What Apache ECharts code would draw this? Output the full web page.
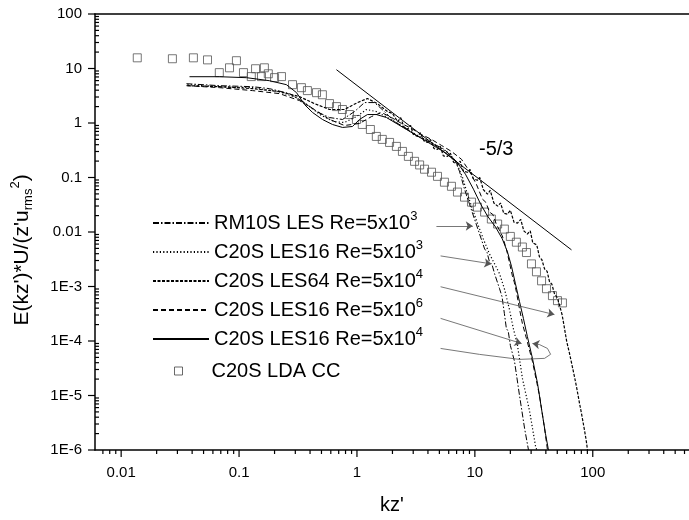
<!DOCTYPE html>
<html><head><meta charset="utf-8">
<script src="https://cdn.jsdelivr.net/npm/echarts@6/dist/echarts.min.js"></script>
<style>html,body{margin:0;padding:0;background:#fff}#c{width:689px;height:520px}</style>
</head><body><div id="c"></div>
<script>
const FONT = '"Liberation Sans", Arial, Helvetica, sans-serif';

// tick labels
const xTickValues = [0.01, 0.1, 1, 10, 100];
const xTickLabels = ['0.01', '0.1', '1', '10', '100'];
const yTickValues = [1e-6, 1e-5, 1e-4, 1e-3, 0.01, 0.1, 1, 10, 100];
const yTickLabels = ['1E-6', '1E-5', '1E-4', '1E-3', '0.01', '0.1', '1', '10', '100'];

// series names (^n = superscript)
const seriesNames = ['RM10S LES Re=5x10^3', 'C20S LES16 Re=5x10^3', 'C20S LES64 Re=5x10^4',
  'C20S LES16 Re=5x10^6', 'C20S LES16 Re=5x10^4', 'C20S LDA CC'];

// [kz', E] pairs
const rm10sLes5e3 = [[0.0358,5.26],[0.0682,4.84],[0.130,4.64],[0.181,4.27],[0.268,3.46],[0.359,2.37],[0.454,1.62],[0.585,1.26],[0.754,1.16],[0.953,1.62],[1.158,2.37],[1.409,2.37],[1.711,1.62],[2.081,1.06],[2.529,0.828],[3.076,0.617],[3.74,0.500],[4.55,0.405],[5.52,0.328],[6.71,0.216],[7.41,0.130],[8.17,0.0610],[9.01,0.0324],[9.93,0.0173],[10.96,0.00919],[12.1,0.00489],[12.7,0.0042],[13.3,0.00283],[14.0,0.0025],[14.7,0.00171],[16.2,9.1e-4],[17.0,6.5e-4],[17.8,3.2e-4],[18.5,1.7e-4],[19.2,1.5e-4],[20.0,8.3e-5],[21.7,4.2e-5],[23.9,1.01e-5],[26.4,2.5e-6],[28.5,1e-6]];
const c20sLes16Re5e3 = [[0.0365,5.05],[0.0682,4.64],[0.130,4.45],[0.220,3.76],[0.307,2.92],[0.396,2.00],[0.500,1.37],[0.644,1.06],[0.784,1.02],[0.99,1.31],[1.205,1.77],[1.46,1.62],[1.815,1.26],[2.21,0.98],[2.68,0.761],[3.26,0.591],[3.96,0.479],[4.82,0.372],[5.86,0.289],[6.98,0.190],[7.85,0.101],[8.65,0.0494],[9.55,0.0263],[10.5,0.0146],[11.8,0.00745],[13.3,0.00396],[14.7,0.00260],[16.2,0.00171],[17.8,9.1e-4],[19.6,3.9e-4],[21.2,1.7e-4],[23.0,8.3e-5],[25.3,2.07e-5],[29.1,5.2e-6],[32.7,1.18e-6],[33.5,1e-6]];
const c20sLes64Re5e4 = [[0.0365,4.84],[0.0682,4.64],[0.130,4.27],[0.220,3.76],[0.325,3.05],[0.436,2.27],[0.585,1.77],[0.784,1.77],[1.01,2.37],[1.227,2.81],[1.49,2.27],[1.815,1.62],[2.0,1.5],[2.21,1.06],[2.35,1.25],[2.5,0.85],[2.68,0.761],[2.85,0.9],[3.0,0.62],[3.26,0.567],[3.45,0.66],[3.7,0.47],[3.96,0.440],[4.2,0.5],[4.5,0.34],[4.82,0.328],[5.1,0.37],[5.4,0.25],[5.86,0.244],[6.2,0.28],[6.6,0.19],[7.12,0.175],[7.5,0.2],[8.0,0.13],[8.65,0.125],[9.1,0.14],[9.7,0.095],[10.5,0.0891],[11.0,0.1],[11.8,0.06],[12.8,0.0494],[13.5,0.058],[14.5,0.034],[15.6,0.0298],[16.5,0.034],[17.6,0.022],[18.9,0.0213],[20.0,0.025],[21.5,0.015],[23.0,0.0146],[24.5,0.017],[26.0,0.0105],[27.9,0.00919],[29.5,0.0105],[31.0,0.0063],[32.0,0.00604],[33.5,0.0058],[35.3,0.00349],[37,0.0031],[39.0,0.00211],[41,0.0019],[43.0,0.00122],[45,0.0011],[47.3,7.4e-4],[50,6.2e-4],[52.2,4.6e-4],[55,3.0e-4],[57.6,1.7e-4],[60,1.0e-4],[63.5,5.9e-5],[66,4.0e-5],[70.0,2.2e-5],[73,1.4e-5],[77.2,7.2e-6],[81,4.2e-6],[85.1,2.3e-6],[88,1.5e-6],[90.2,1e-6]];
const c20sLes16Re5e6 = [[0.0358,4.84],[0.0682,4.45],[0.130,3.93],[0.220,3.46],[0.325,2.58],[0.436,1.77],[0.585,1.16],[0.784,0.90],[1.050,0.98],[1.327,1.31],[1.613,1.56],[1.962,1.26],[2.387,0.98],[2.90,0.794],[3.52,0.617],[4.28,0.500],[5.21,0.388],[6.33,0.301],[7.70,0.216],[9.01,0.130],[10.3,0.0753],[11.6,0.0401],[12.4,0.035],[13.3,0.0232],[14.2,0.021],[15.2,0.0140],[17.1,0.00845],[18.5,0.00489],[19.6,0.00283],[20.8,0.00157],[21.6,0.0012],[22.5,8.0e-4],[23.9,3.9e-4],[25.3,2.1e-4],[27.4,1.11e-4],[30.8,4.2e-5],[35.3,1.01e-5],[39.0,2.5e-6],[41.3,1e-6]];
const c20sLes16Re5e4 = [[0.0380,7.07],[0.0682,7.07],[0.116,6.78],[0.181,5.97],[0.252,5.05],[0.307,3.61],[0.359,2.18],[0.420,1.56],[0.510,1.16],[0.620,0.939],[0.754,0.828],[0.916,0.863],[1.050,1.16],[1.227,1.43],[1.46,1.43],[1.78,1.26],[2.16,0.98],[2.63,0.761],[3.20,0.591],[3.89,0.459],[4.72,0.357],[5.74,0.277],[6.98,0.198],[8.32,0.115],[9.73,0.0610],[11.2,0.0324],[12.8,0.0196],[15.0,0.0123],[17.1,0.00745],[18.9,0.00431],[20.5,0.0023],[22.1,0.00112],[23.9,5.3e-4],[25.8,2.6e-4],[27.9,1.2e-4],[30.8,4.8e-5],[34.0,1.67e-5],[36.7,5.8e-6],[39.7,2.0e-6],[42.1,1e-6]];
const c20sLdaCC = [[0.0137,15.7],[0.0272,15.1],[0.041,15.7],[0.054,14.4],[0.068,8.4],[0.083,10.3],[0.095,13.9],[0.109,8.4],[0.127,7.1],[0.138,9.9],[0.155,7.1],[0.164,10.3],[0.177,8.0],[0.200,6.8],[0.229,7.1],[0.284,5.05],[0.338,4.45],[0.38,3.93],[0.454,3.6],[0.509,3.3],[0.585,2.27],[0.67,2.0],[0.753,1.77],[0.863,1.43],[0.99,1.16],[1.11,0.94],[1.30,0.76],[1.46,0.567],[1.64,0.50],[1.89,0.44],[2.16,0.372],[2.43,0.301],[2.73,0.244],[3.08,0.198],[3.4,0.17],[3.74,0.142],[4.29,0.125],[4.82,0.105],[5.52,0.082],[6.33,0.069],[7.12,0.054],[8.17,0.0436],[9.36,0.0353],[10.5,0.0286],[12.1,0.0232],[13.8,0.0173],[15.6,0.014],[17.8,0.0113],[20.0,0.0083],[22.5,0.0065],[25.3,0.0053],[27.4,0.0042],[30.2,0.0026],[33.3,0.00186],[36.8,0.00127],[40.5,9.1e-4],[45.5,6.8e-4],[50.2,5.5e-4],[55.3,5.0e-4]];

// -5/3 reference line and annotation arrows (data coordinates)
const slopeLine = [[0.67, 9.5], [66, 0.0047]];
const slopeLabel = '-5/3';
const arrowLines = [
  [[4.72, 0.0129], [9.6, 0.0129]],
  [[5.12, 0.00364], [13.8, 0.0026]],
  [[5.12, 9.9e-4], [47.3, 3.05e-4]],
  [[5.12, 2.6e-4], [24.9, 9.0e-5]],
  [[35.3, 8.6e-5], [30.8, 9.0e-5]]
];
const loopLine = [[5.12, 7.3e-5], [10.96, 5.68e-5], [23.9, 4.6e-5], [39.0, 4.8e-5], [43.9, 5.7e-5], [41.3, 7.3e-5], [35.3, 8.6e-5]];

const X_MIN = 0.006, X_MAX = 655, Y_MIN = 1e-6, Y_MAX = 100;

function labelFmt(values, labels) {
  return function (v) {
    for (let i = 0; i < values.length; i++) {
      if (Math.abs(Math.log10(v) - Math.log10(values[i])) < 1e-6) return labels[i];
    }
    return '';
  };
}

// tick marks (major/minor) positioned by the axes
const xTicks = [], yTicks = [];
for (let e = -3; e <= 3; e++) {
  for (let m = 1; m <= 9; m++) {
    const v = m * Math.pow(10, e);
    if (v > X_MIN * 1.0001 && v < X_MAX) xTicks.push([v, Y_MIN, m === 1 ? 1 : 0]);
  }
}
for (let e = -6; e <= 2; e++) {
  for (let m = 1; m <= 9; m++) {
    const v = m * Math.pow(10, e);
    if (v >= Y_MIN * 0.9999 && v <= Y_MAX * 1.0001) yTicks.push([X_MIN, v, m === 1 ? 1 : 0]);
  }
}

function lineSeries(name, data, dash, width) {
  return {
    type: 'line', name: name, data: data, showSymbol: false, symbol: 'circle', symbolSize: 2,
    lineStyle: { color: '#000', width: width, type: dash },
    itemStyle: { color: '#000' }, z: 3, silent: true
  };
}

function legendFmt(name) {
  const m = name.match(/^(.*)\^(\d)$/);
  if (m) return '{n|' + m[1] + '}{s|' + m[2] + '}';
  return '{n|' + name + '}';
}

const legendText = {
  color: '#000', fontFamily: FONT, fontSize: 20,
  rich: {
    n: { fontSize: 20, color: '#000', fontFamily: FONT },
    s: { fontSize: 13, color: '#000', fontFamily: FONT, padding: [0, 0, 13, 0] }
  }
};

const chart = echarts.init(document.getElementById('c'), null, { renderer: 'canvas' });
chart.setOption({
  animation: false,
  backgroundColor: '#fff',
  grid: { left: 95, right: 0, top: 14, bottom: 68, show: false },
  xAxis: [{
    type: 'log', logBase: 10, min: X_MIN, max: X_MAX,
    axisLine: { show: true, lineStyle: { color: '#000', width: 1.5 } },
    axisTick: { show: false }, splitLine: { show: false }, minorTick: { show: false },
    axisLabel: { formatter: labelFmt(xTickValues, xTickLabels), fontSize: 15, color: '#000', fontFamily: FONT, margin: 15, showMaxLabel: false },
    name: "kz'", nameLocation: 'middle', nameGap: 45,
    nameTextStyle: { fontSize: 20, color: '#000', fontFamily: FONT }
  }, {
    type: 'log', logBase: 10, min: X_MIN, max: X_MAX, position: 'top',
    axisLine: { show: true, lineStyle: { color: '#000', width: 1.5 } },
    axisTick: { show: false }, axisLabel: { show: false }, splitLine: { show: false }
  }],
  yAxis: {
    type: 'log', logBase: 10, min: Y_MIN, max: Y_MAX,
    axisLine: { show: true, lineStyle: { color: '#000', width: 1.5 } },
    axisTick: { show: false }, splitLine: { show: false }, minorTick: { show: false },
    axisLabel: { formatter: labelFmt(yTickValues, yTickLabels), fontSize: 15, color: '#000', fontFamily: FONT, margin: 13 },
    name: "{b|E(kz')*U/(z'u}{sub|rms}{sup|2}{b|)}", nameLocation: 'middle', nameGap: 59, nameRotate: 90,
    nameTextStyle: {
      color: '#000', fontFamily: FONT, padding: [0, 36, 0, 0],
      rich: {
        b: { fontSize: 21, color: '#000', fontFamily: FONT },
        sub: { fontSize: 13, color: '#000', fontFamily: FONT, padding: [11, 0, 0, 0] },
        sup: { fontSize: 13, color: '#000', fontFamily: FONT, padding: [0, 0, 14, 0] }
      }
    }
  },
  legend: [{
    orient: 'vertical', left: 147, top: 205, itemWidth: 56, itemHeight: 8, itemGap: 6,
    selectedMode: false,
    data: seriesNames.slice(0, 5).map(n => ({ name: n, itemStyle: { opacity: 0 } })),
    formatter: legendFmt, textStyle: legendText
  }, {
    orient: 'vertical', left: 169, top: 356, itemWidth: 56, itemHeight: 8, itemGap: 6,
    selectedMode: false, symbolKeepAspect: true,
    data: [{ name: seriesNames[5], icon: 'path://M0,0L10,0L10,10L0,10Z', symbolKeepAspect: true,
      itemStyle: { color: 'rgba(0,0,0,0)', borderColor: '#444', borderWidth: 1 } }],
    formatter: legendFmt, textStyle: legendText
  }],
  graphic: [
    { type: 'text', left: 479, top: 139, style: { text: slopeLabel, fontSize: 20, fontFamily: FONT, fill: '#000' } }
  ],
  series: [
    lineSeries(seriesNames[0], rm10sLes5e3, [6, 2, 1.5, 2], 1),
    lineSeries(seriesNames[1], c20sLes16Re5e3, [1.2, 2.2], 1.2),
    lineSeries(seriesNames[2], c20sLes64Re5e4, [3, 1.5], 1.2),
    lineSeries(seriesNames[3], c20sLes16Re5e6, [5, 3], 1),
    lineSeries(seriesNames[4], c20sLes16Re5e4, 'solid', 1),
    {
      type: 'scatter', name: seriesNames[5], data: c20sLdaCC, symbol: 'rect', symbolSize: 8,
      itemStyle: { color: 'rgba(255,255,255,0)', borderColor: '#555', borderWidth: 1 }, z: 2, silent: true
    },
    {
      type: 'line', name: 'slope', data: slopeLine, showSymbol: false, symbol: 'none',
      lineStyle: { color: '#000', width: 1 }, z: 3, silent: true
    },
    {
      type: 'lines', coordinateSystem: 'cartesian2d', name: 'arrows', polyline: false,
      data: arrowLines.map(c => ({ coords: c })), symbol: ['none', 'arrow'], symbolSize: 7,
      lineStyle: { color: '#555', width: 0.8, opacity: 1, curveness: 0 }, z: 4, silent: true
    },
    {
      type: 'lines', coordinateSystem: 'cartesian2d', name: 'loop', polyline: true,
      data: [{ coords: loopLine }], symbol: 'none',
      lineStyle: { color: '#555', width: 0.8, opacity: 1 }, z: 4, silent: true
    },
    {
      type: 'custom', name: 'xticks', data: xTicks, clip: false, silent: true, z: 5,
      renderItem: function (params, api) {
        const p = api.coord([api.value(0), api.value(1)]);
        const len = api.value(2) === 1 ? 7 : 4;
        return { type: 'line', shape: { x1: p[0], y1: p[1], x2: p[0], y2: p[1] + len }, style: { stroke: '#000', lineWidth: 1.2 } };
      }
    },
    {
      type: 'custom', name: 'yticks', data: yTicks, clip: false, silent: true, z: 5,
      renderItem: function (params, api) {
        const p = api.coord([api.value(0), api.value(1)]);
        const major = api.value(2) === 1;
        const shape = major ? { x1: p[0] - 7, y1: p[1], x2: p[0], y2: p[1] } : { x1: p[0], y1: p[1], x2: p[0] + 4, y2: p[1] };
        return { type: 'line', shape: shape, style: { stroke: '#000', lineWidth: 1.2 } };
      }
    }
  ]
});
</script>
</body></html>
